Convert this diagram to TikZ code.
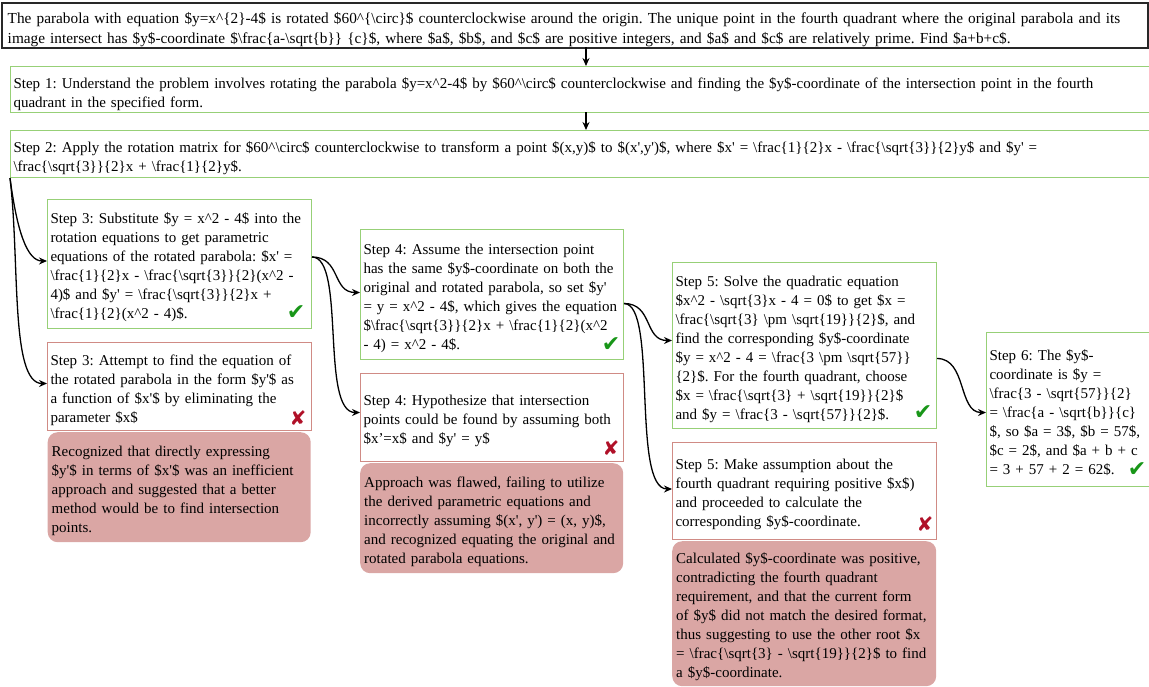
\documentclass[tikz,border=0pt]{standalone}
\usepackage{fontspec}
\setmainfont{Liberation Serif}[Ligatures=TeXOff]
\newfontfamily\symfont{DejaVu Sans}
\usetikzlibrary{arrows.meta,calc}
\definecolor{gline}{RGB}{151,208,119}
\definecolor{rline}{RGB}{208,139,133}
\definecolor{fbfill}{RGB}{218,166,164}
\definecolor{okgreen}{RGB}{24,150,24}
\definecolor{badred}{RGB}{176,16,40}
\definecolor{topline}{RGB}{40,40,40}
\newcommand\bsl{\textbackslash}
\newcommand\crt{\textasciicircum}
\frenchspacing
\hyphenpenalty=10000
\exhyphenpenalty=10000
\tikzset{
  txt/.style={font=\fontsize{15}{19}\selectfont, align=left, anchor=north west, inner ysep=0pt,
    execute at begin node={\rule{0pt}{17.5pt}}},
  widetxt/.style={execute at begin node={\rule{0pt}{19.5pt}}},
  topbox/.style={txt, widetxt, draw=topline, line width=1.5pt, inner xsep=6pt, font=\fontsize{15.3}{20}\selectfont},
  gbox/.style={txt, draw=gline, line width=1pt, fill=white, inner xsep=3pt},
  rbox/.style={txt, draw=rline, line width=1pt, fill=white, inner xsep=3pt},
  fbk/.style={txt, fill=fbfill, draw=none, rounded corners=10pt, inner xsep=4pt},
  okmark/.style={font=\symfont\fontsize{22}{22}\selectfont, text=okgreen, inner sep=0pt},
  badmark/.style={font=\symfont\fontsize{20}{20}\selectfont, text=badred, inner sep=0pt},
  conn/.style={line width=1.3pt, -{Stealth[length=8pt,width=7pt]}}
}
\begin{document}
\begin{tikzpicture}[x=1pt,y=-1pt]
\useasboundingbox (0,0) rectangle (1149,686);
\clip (0,0) rectangle (1149,686);

\node[topbox, text width=1134pt, minimum width=1146pt, minimum height=45pt] (q) at (1,2)
{The parabola with equation \$y=x\crt\{2\}-4\$ is rotated \$60\crt\{\bsl circ\}\$ counterclockwise around the origin. The unique point in the fourth quadrant where the original parabola and its\\
image intersect has \$y\$-coordinate \$\bsl frac\{a-\bsl sqrt\{b\}\} \{c\}\$, where \$a\$, \$b\$, and \$c\$ are positive integers, and \$a\$ and \$c\$ are relatively prime. Find \$a+b+c\$.};

\node[gbox, widetxt, text width=1154pt, minimum width=1160pt, minimum height=46pt] (s1) at (10,66)
{Step 1: Understand the problem involves rotating the parabola \$y=x\crt2-4\$ by \$60\crt\bsl circ\$ counterclockwise and finding the \$y\$-coordinate of the intersection point in the fourth\\
quadrant in the specified form.};

\node[gbox, widetxt, text width=1154pt, minimum width=1160pt, minimum height=47pt] (s2) at (10,130)
{Step 2: Apply the rotation matrix for \$60\crt\bsl circ\$ counterclockwise to transform a point \$(x,y)\$ to \$(x',y')\$, where \$x' = \bsl frac\{1\}\{2\}x - \bsl frac\{\bsl sqrt\{3\}\}\{2\}y\$ and \$y' =\\
\bsl frac\{\bsl sqrt\{3\}\}\{2\}x + \bsl frac\{1\}\{2\}y\$.};

% column 3
\node[gbox, text width=258pt, minimum width=264pt, minimum height=129pt] (s3g) at (47,199)
{Step 3: Substitute \$y = x\crt2 - 4\$ into the\\
rotation equations to get parametric\\
equations of the rotated parabola: \$x' =\\
\bsl frac\{1\}\{2\}x - \bsl frac\{\bsl sqrt\{3\}\}\{2\}(x\crt2 -\\
4)\$ and \$y' = \bsl frac\{\bsl sqrt\{3\}\}\{2\}x +\\
\bsl frac\{1\}\{2\}(x\crt2 - 4)\$.};

\node[rbox, text width=258pt, minimum width=264pt, minimum height=88pt] (s3b) at (47,342)
{Step 3: Attempt to find the equation of\\
the rotated parabola in the form \$y'\$ as\\
a function of \$x'\$ by eliminating the\\
parameter \$x\$};

\node[fbk, text width=255pt, minimum width=263pt, minimum height=110pt] (f3) at (47.5,432)
{Recognized that directly expressing\\
\$y'\$ in terms of \$x'\$ was an inefficient\\
approach and suggested that a better\\
method would be to find intersection\\
points.};

% column 4
\node[gbox, text width=257pt, minimum width=263pt, minimum height=130pt] (s4g) at (360,229)
{Step 4: Assume the intersection point\\
has the same \$y\$-coordinate on both the\\
original and rotated parabola, so set \$y'\\
= y = x\crt2 - 4\$, which gives the equation\\
\$\bsl frac\{\bsl sqrt\{3\}\}\{2\}x + \bsl frac\{1\}\{2\}(x\crt2\\
- 4) = x\crt2 - 4\$.};

\node[rbox, text width=257pt, minimum width=263pt, minimum height=88pt] (s4b) at (360,373)
{Step 4: Hypothesize that intersection\\
points could be found by assuming both\\
\$x’=x\$ and \$y' = y\$};

\node[fbk, text width=255pt, minimum width=263pt, minimum height=110pt] (f4) at (360,463)
{Approach was flawed, failing to utilize\\
the derived parametric equations and\\
incorrectly assuming \$(x', y') = (x, y)\$,\\
and recognized equating the original and\\
rotated parabola equations.};

% column 5
\node[gbox, text width=258pt, minimum width=264pt, minimum height=166pt] (s5g) at (672,262)
{Step 5: Solve the quadratic equation\\
\$x\crt2 - \bsl sqrt\{3\}x - 4 = 0\$ to get \$x =\\
\bsl frac\{\bsl sqrt\{3\} \bsl pm \bsl sqrt\{19\}\}\{2\}\$, and\\
find the corresponding \$y\$-coordinate\\
\$y = x\crt2 - 4 = \bsl frac\{3 \bsl pm \bsl sqrt\{57\}\}\\
\{2\}\$. For the fourth quadrant, choose\\
\$x = \bsl frac\{\bsl sqrt\{3\} + \bsl sqrt\{19\}\}\{2\}\$\\
and \$y = \bsl frac\{3 - \bsl sqrt\{57\}\}\{2\}\$.};

\node[rbox, text width=258pt, minimum width=264pt, minimum height=97pt] (s5b) at (672,442)
{Step 5: Make assumption about the\\
fourth quadrant requiring positive \$x\$)\\
and proceeded to calculate the\\
corresponding \$y\$-coordinate.};

\node[fbk, text width=256pt, minimum width=264pt, minimum height=145pt] (f5) at (672,541)
{Calculated \$y\$-coordinate was positive,\\
contradicting the fourth quadrant\\
requirement, and that the current form\\
of \$y\$ did not match the desired format,\\
thus suggesting to use the other root \$x\\
= \bsl frac\{\bsl sqrt\{3\} - \bsl sqrt\{19\}\}\{2\}\$ to find\\
a \$y\$-coordinate.};

% column 6
\node[gbox, text width=174pt, minimum width=180pt, minimum height=154pt] (s6) at (986,332)
{Step 6: The \$y\$-\\
coordinate is \$y =\\
\bsl frac\{3 - \bsl sqrt\{57\}\}\{2\}\\
= \bsl frac\{a - \bsl sqrt\{b\}\}\{c\}\\
\$, so \$a = 3\$, \$b = 57\$,\\
\$c = 2\$, and \$a + b + c\\
= 3 + 57 + 2 = 62\$.};

% marks
\node[okmark] (m3g) at ($(s3g.south east)+(-16,-16)$) {✔};
\node[okmark] (m4g) at ($(s4g.south east)+(-13,-15)$) {✔};
\node[okmark] (m5g) at ($(s5g.south east)+(-14,-16)$) {✔};
\node[okmark] (m6) at (1137,470) {✔};
\node[badmark] (m3b) at ($(s3b.south east)+(-14,-13)$) {✘};
\node[badmark] (m4b) at ($(s4b.south east)+(-13,-14)$) {✘};
\node[badmark] (m5b) at ($(s5b.south east)+(-12,-16)$) {✘};

% connectors
\coordinate (qa) at (586,47);
\coordinate (s1t) at (586,66);
\coordinate (s1a) at (586,112);
\coordinate (s2t) at (586,130);
\draw[conn] (qa) -- (s1t);
\draw[conn] (s1a) -- (s2t);

\draw[conn] (s2.south west) .. controls +(7,53) and +(-20,0) .. ([yshift=3pt]s3g.west);
\draw[conn] (s2.south west) .. controls +(10,83) and +(-37,0) .. ([yshift=3pt]s3b.west);
\draw[conn] ([yshift=7pt]s3g.east) .. controls +(29,0) and +(-28,0) .. ([yshift=2pt]s4g.west);
\draw[conn] ([yshift=7pt]s3g.east) .. controls +(34,0) and +(-40,0) .. ([yshift=5pt]s4b.west);
\draw[conn] ([yshift=-9pt]s4g.east) .. controls +(29,0) and +(-28,0) .. ([yshift=5pt]s5g.west);
\draw[conn] ([yshift=-9pt]s4g.east) .. controls +(34,0) and +(-41,0) .. ([yshift=2pt]s5b.west);
\draw[conn] ([yshift=-13pt]s5g.east) .. controls +(30,0) and +(-28,0) .. ([yshift=-3pt]s6.west);
\end{tikzpicture}
\end{document}
